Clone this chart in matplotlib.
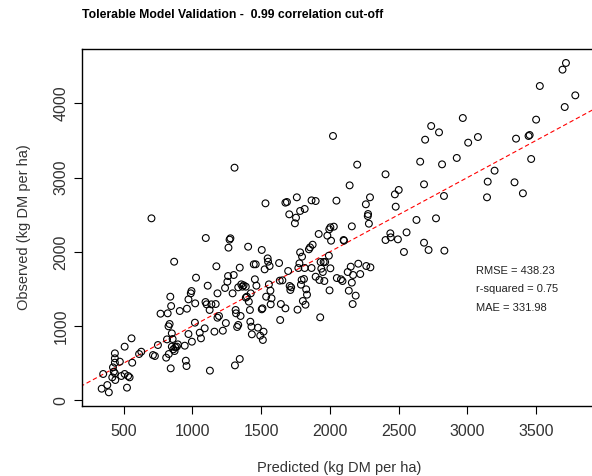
import matplotlib
matplotlib.use("Agg")
import matplotlib.pyplot as plt

# predicted vs observed (kg DM per ha)
predicted = [341, 352, 382, 393, 418, 423, 429, 437, 440, 437, 437, 437, 473, 508, 558,
             484, 508, 533, 544, 525, 563, 613, 629, 714, 728, 750, 769, 703, 810, 829,
             816, 827, 835, 821, 840, 846, 851, 857, 843, 851, 862, 871, 876, 868, 887,
             895, 909, 945, 953, 958, 961, 972, 972, 989, 994, 997, 1019, 1021, 1027, 1054,
             1063, 1090, 1096, 1104, 1098, 1112, 1128, 1139, 1126, 1161, 1170, 1183, 1175, 1183, 1194,
             1222, 1238, 1244, 1260, 1255, 1263, 1271, 1277, 1293, 1301, 1310, 1307, 1315, 1318, 1326,
             1334, 1334, 1345, 1345, 1351, 1356, 1365, 1373, 1389, 1389, 1397, 1411, 1406, 1419, 1422,
             1430, 1433, 1425, 1447, 1461, 1455, 1466, 1477, 1494, 1505, 1510, 1505, 1513, 1518, 1526,
             1532, 1537, 1548, 1551, 1557, 1562, 1568, 1570, 1576, 1631, 1636, 1639, 1644, 1655, 1677,
             1677, 1688, 1697, 1705, 1708, 1713, 1719, 1746, 1754, 1760, 1765, 1771, 1779, 1784, 1784,
             1790, 1795, 1798, 1804, 1812, 1817, 1817, 1823, 1828, 1834, 1848, 1856, 1867, 1867, 1875,
             1897, 1897, 1919, 1924, 1930, 1933, 1938, 1949, 1955, 1960, 1966, 1982, 1993, 1996, 2004,
             1998, 2004, 2009, 2023, 2029, 2048, 2051, 2081, 2092, 2100, 2103, 2130, 2138, 2144, 2152,
             2160, 2160, 2166, 2169, 2188, 2199, 2207, 2221, 2262, 2276, 2278, 2284, 2265, 2292, 2295,
             2405, 2405, 2440, 2443, 2473, 2479, 2495, 2501, 2539, 2558, 2630, 2657, 2685, 2685, 2693,
             2718, 2737, 2772, 2794, 2816, 2830, 2833, 2923, 2967, 3006, 3077, 3143, 3148, 3198, 3343,
             3354, 3404, 3445, 3453, 3464, 3500, 3527, 3692, 3717, 3708, 3785]
observed = [157, 355, 206, 108, 310, 444, 386, 364, 274, 507, 566, 633, 521, 723, 835,
            328, 355, 328, 310, 171, 507, 624, 655, 610, 597, 745, 1167, 2451, 575, 624,
            821, 997, 1028, 1172, 1396, 1270, 902, 826, 431, 723, 687, 664, 714, 1867, 723,
            754, 1203, 736, 534, 462, 1234, 893, 1360, 1441, 1472, 790, 1046, 1306, 1652, 911,
            835, 970, 1324, 1293, 2186, 1544, 400, 1293, 1217, 925, 1297, 1113, 1805, 1441, 1136,
            938, 1513, 1041, 1674, 1598, 2056, 2164, 2182, 1441, 1688, 471, 3133, 1217, 1172, 988,
            1522, 1015, 557, 1787, 1136, 1562, 1531, 1549, 1531, 1383, 1396, 1329, 2069, 1217, 1059,
            992, 889, 1441, 1832, 1832, 1630, 1544, 979, 871, 2025, 1239, 1226, 813, 925, 1764,
            2653, 1396, 1912, 1867, 1562, 1809, 1477, 1293, 1374, 1849, 1612, 1082, 1297, 1616, 1239,
            2662, 2671, 1742, 2505, 1540, 1486, 1522, 2384, 2460, 2734, 1221, 1782, 1845, 1993, 2550,
            1558, 1621, 1935, 1338, 1634, 2577, 1782, 1288, 1495, 1423, 2034, 2060, 2693, 1782, 2096,
            2684, 1665, 2240, 1621, 1118, 1863, 1773, 1728, 1863, 1607, 1863, 2218, 1948, 2303, 2330,
            1481, 1778, 2150, 3560, 2339, 2689, 1647, 1630, 1607, 2159, 2150, 1728, 1477, 2895, 1800,
            2343, 1585, 1297, 1688, 1410, 3174, 1840, 1701, 2640, 2482, 2509, 2379, 1809, 2734, 1791,
            3044, 2159, 2249, 2195, 2774, 2608, 2168, 2833, 1998, 2262, 2429, 3214, 2909, 2123, 3510,
            2025, 3694, 2451, 3609, 3178, 2752, 2016, 3264, 3802, 3470, 3546, 2734, 2945, 3093, 2936,
            3524, 2788, 3560, 3573, 3250, 3780, 4233, 4453, 4543, 3950, 4107]

x_ticks = [500, 1000, 1500, 2000, 2500, 3000, 3500]
y_ticks = [0, 1000, 2000, 3000, 4000]
stats = ["RMSE = 438.23", "r-squared = 0.75", "MAE = 331.98"]

plt.rcParams['font.family'] = ['Liberation Sans', 'DejaVu Sans']

fig = plt.figure(figsize=(5.92, 4.76), dpi=100)
ax = fig.add_axes([0.139, 0.1477, 0.8688, 0.7487])

ax.scatter(predicted, observed, s=24, facecolors='none', edgecolors='black', linewidths=0.8, zorder=3)
ax.plot([0, 5000], [0, 5000], color='red', linestyle=(0, (4, 2.5)), linewidth=0.8, zorder=2)

ax.set_xlim(200, 3940)
ax.set_ylim(-72, 4727)
ax.set_xticks(x_ticks)
ax.set_yticks(y_ticks)
ax.tick_params(direction='out', length=6, width=0.8, labelsize=11.5, labelcolor='#333333')
ax.tick_params(axis='x', pad=7)
ax.tick_params(axis='y', pad=4)
for lab in ax.get_yticklabels():
    lab.set_rotation(90)
    lab.set_va('center')
for sp in ax.spines.values():
    sp.set_linewidth(1.0)

ax.set_xlabel("Predicted (kg DM per ha)", fontsize=10.5, color='#333333', labelpad=16)
ax.set_ylabel("Observed (kg DM per ha)", fontsize=10.5, color='#333333', labelpad=16)

for i, s in enumerate(stats):
    ax.text(3064, 1742 - i * 247, s, fontsize=8, color='#222222', ha='left', va='center')

fig.text(82 / 592, 1 - 14.7 / 476, "Tolerable Model Validation -  0.99 correlation cut-off",
         fontsize=8.8, fontweight='bold', ha='left', va='center')

fig.savefig("out.png", dpi=100)
